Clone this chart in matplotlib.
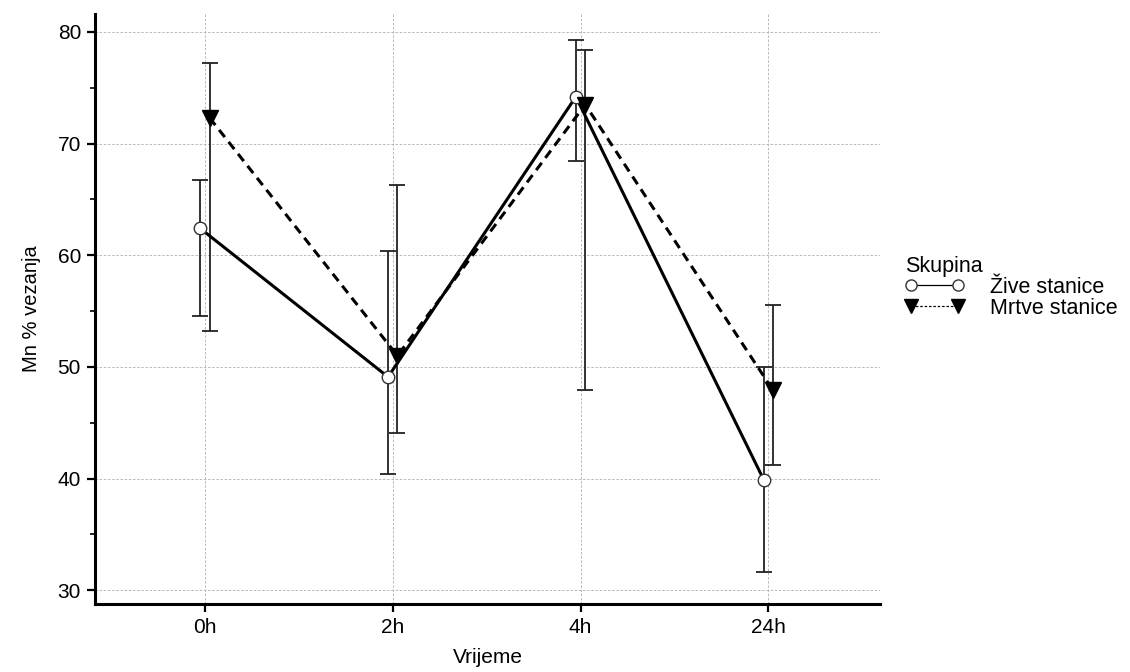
import matplotlib
matplotlib.use("Agg")
import matplotlib.pyplot as plt
from matplotlib.lines import Line2D
from matplotlib.ticker import MultipleLocator
import numpy as np

plt.rcParams['font.family'] = ['Liberation Sans', 'DejaVu Sans']

# podaci
vrijeme = ["0h", "2h", "4h", "24h"]
zive_mean = [62.4, 49.1, 74.2, 39.9]
zive_gore = [66.7, 60.4, 79.3, 50.0]
zive_dolje = [54.6, 40.4, 68.4, 31.6]
mrtve_mean = [72.3, 51.0, 73.5, 47.9]
mrtve_gore = [77.25, 66.3, 78.4, 55.5]
mrtve_dolje = [53.2, 44.1, 47.9, 41.2]

x = np.arange(len(vrijeme))
pomak = 0.025

fig = plt.figure(figsize=(11.3, 6.72), dpi=100)
ax = fig.add_axes([0.084, 0.101, 0.695, 0.878])

# zive stanice
zm = np.array(zive_mean)
yerr_z = [zm - np.array(zive_dolje), np.array(zive_gore) - zm]
ax.errorbar(x - pomak, zm, yerr=yerr_z, fmt='none', ecolor='#222222',
            elinewidth=1.3, capsize=6, capthick=1.3, zorder=2)
ax.plot(x - pomak, zm, color='black', linewidth=2.2, linestyle='-',
        marker='o', markersize=9, markerfacecolor='white',
        markeredgecolor='#333333', markeredgewidth=1.0, zorder=4)

# mrtve stanice
mm = np.array(mrtve_mean)
yerr_m = [mm - np.array(mrtve_dolje), np.array(mrtve_gore) - mm]
ax.errorbar(x + pomak, mm, yerr=yerr_m, fmt='none', ecolor='#222222',
            elinewidth=1.3, capsize=6, capthick=1.3, zorder=2)
ax.plot(x + pomak, mm, color='black', linewidth=2.2, linestyle=(0, (3, 2)),
        marker='v', markersize=11.5, markerfacecolor='black',
        markeredgecolor='black', zorder=4)

ax.set_xlim(-0.586, 3.596)
ax.set_ylim(28.75, 81.6)
ax.set_xticks(x)
ax.set_xticklabels(vrijeme)
ax.yaxis.set_major_locator(MultipleLocator(10))
ax.yaxis.set_minor_locator(MultipleLocator(5))

ax.grid(True, which='major', color='#b0b0b0', linestyle=(0, (3, 2)), linewidth=0.6)
ax.set_axisbelow(True)

for s in ['top', 'right']:
    ax.spines[s].set_visible(False)
for s in ['left', 'bottom']:
    ax.spines[s].set_linewidth(2.2)

ax.tick_params(axis='both', which='major', direction='out', length=6, width=1.6,
               labelsize=15, pad=4)
ax.tick_params(axis='y', which='minor', direction='out', length=3.5, width=1.2)

ax.set_xlabel("Vrijeme", fontsize=15, labelpad=8)
ax.set_ylabel("Mn % vezanja", fontsize=14.5, labelpad=12)

handles = [
    Line2D([0], [0], color='black', linewidth=0.9, linestyle='-', marker='o',
           markersize=8, markerfacecolor='white', markeredgecolor='#333333'),
    Line2D([0], [0], color='black', linewidth=0.9, linestyle=(0, (2, 1.5)), marker='v',
           markersize=10, markerfacecolor='black', markeredgecolor='black'),
]
leg = ax.legend(handles, ["Žive stanice", "Mrtve stanice"], title="Skupina",
                loc='upper left', bbox_to_anchor=(1.02, 0.605), frameon=False,
                fontsize=15.5, title_fontsize=15.5, numpoints=2, handlelength=2.8,
                handletextpad=1.15, labelspacing=0.0, alignment='left',
                borderaxespad=0)

fig.savefig("out.png", dpi=100)
